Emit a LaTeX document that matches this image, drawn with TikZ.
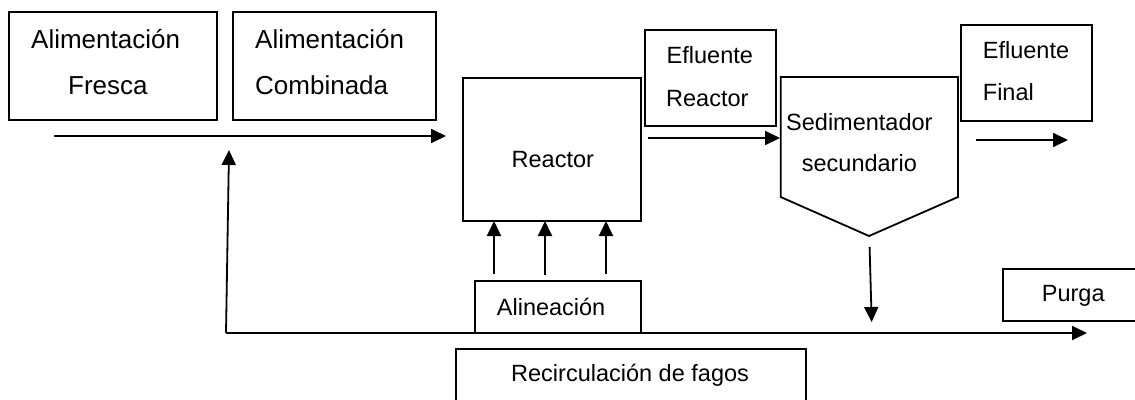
\documentclass[tikz,border=0pt]{standalone}
\usepackage{fontspec}
\setmainfont{Liberation Sans}
\usetikzlibrary{arrows.meta}
\begin{document}
\begin{tikzpicture}[x=1pt,y=-1pt,
  box/.style={draw, line width=1.8pt, inner sep=0pt, outer sep=0pt},
  lbl/.style={inner sep=0pt, anchor=base west, font=\fontsize{23.5}{28}\selectfont},
  biglbl/.style={inner sep=0pt, anchor=base west, font=\fontsize{26}{30}\selectfont},
  flow/.style={line width=1.8pt, -{Triangle[length=15pt,width=14pt]}}]
\useasboundingbox (0,0) rectangle (1135,399);

% boxes
\node[box, minimum width=208pt, minimum height=108pt] (fresca) at (113,66) {};
\node[box, minimum width=203pt, minimum height=108pt] (combinada) at (334.5,66) {};
\node[box, minimum width=178pt, minimum height=143pt] (reactor) at (552,149.5) {};
\node[box, minimum width=131pt, minimum height=96pt] (efreactor) at (710.5,78) {};
\node[box, minimum width=131pt, minimum height=96pt] (effinal) at (1026.5,73) {};
\node[box, minimum width=166pt, minimum height=52pt] (alineacion) at (558,307) {};
\draw[box] (780.7,77) coordinate (sedtl) -- (958,77) -- (958,197) -- (869,236) coordinate (sedtip) -- (780.7,197) -- cycle;
\draw[box] (1140,269) -| (1003,321) -- (1140,321);
\draw[box] (455.7,405) |- (806,349) -- (806,405);

% labels
\node[biglbl] (t1) at (31,48.5) {Alimentación};
\node[biglbl] (t2) at (68,94.3) {Fresca};
\node[biglbl] (t3) at (255,48.5) {Alimentación};
\node[biglbl] (t4) at (255,94.3) {Combinada};
\node[lbl] (t5) at (511.5,167) {Reactor};
\node[lbl] (t6) at (666.5,63.5) {Efluente};
\node[lbl] (t7) at (666,106) {Reactor};
\node[lbl] (t8) at (786,130.5) {Sedimentador};
\node[lbl] (t9) at (801.7,171.5) {secundario};
\node[lbl] (t10) at (982.7,58.5) {Efluente};
\node[lbl] (t11) at (982.7,100) {Final};
\node[lbl] (t12) at (496.7,315) {Alineación};
\node[lbl] (t13) at (1041.7,301.8) {Purga};
\node[lbl] (t14) at (511,381.8) {Recirculación de fagos};

% connector end points
\coordinate (a1s) at (54,136);
\coordinate (a1e) at (446,136);
\coordinate (corner) at (226,333);
\coordinate (recup) at (229,150);
\coordinate (purgae) at (1087,333);
\coordinate (r1) at (494,274);
\coordinate (r2) at (545,275);
\coordinate (r3) at (606,274);
\coordinate (rs) at (648,138);
\coordinate (sedin) at (780,138);
\coordinate (so) at (976,140);
\coordinate (soe) at (1068,140);
\coordinate (sd) at (869.6,247);
\coordinate (sde) at (871.7,322);

% connectors
\draw[flow] (a1s) -- (a1e);
\draw[flow] (corner) -- (recup);
\draw[flow] (corner) -- (purgae);
\draw[flow] (r1) -- (r1 |- reactor.south);
\draw[flow] (r2) -- (r2 |- reactor.south);
\draw[flow] (r3) -- (r3 |- reactor.south);
\draw[flow] (rs) -- (sedin);
\draw[flow] (so) -- (soe);
\draw[flow] (sd) -- (sde);
\end{tikzpicture}
\end{document}
